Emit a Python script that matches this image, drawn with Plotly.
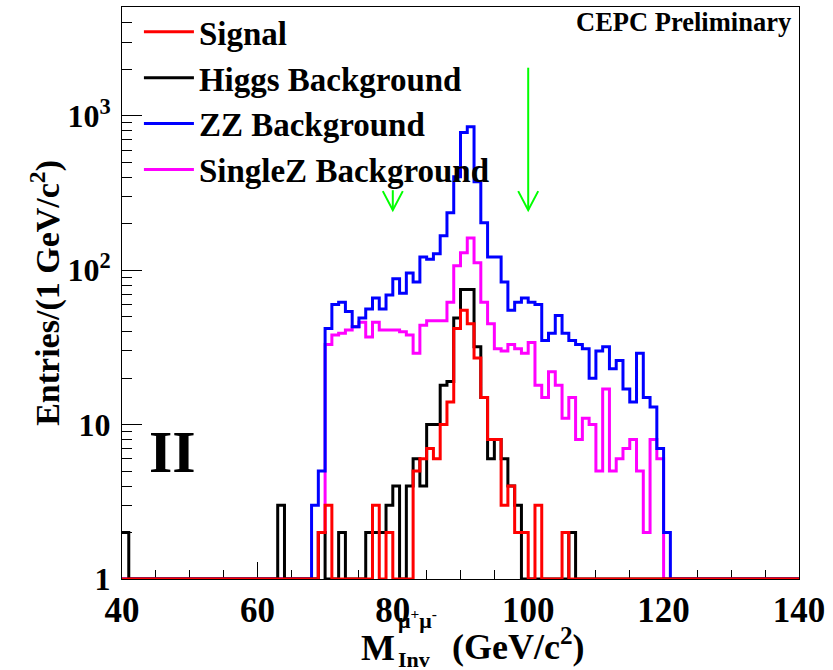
import numpy as np
import plotly.graph_objects as go

# ---------------- data (1 GeV bins from 40 to 140) ----------------
bin_edges = list(range(40, 141))

# bin contents, bins 40..139 (rows of 10 bins)
signal = [
    0, 0, 0, 0, 0, 0, 0, 0, 0, 0,        # 40-49
    0, 0, 0, 0, 0, 0, 0, 0, 0, 0,        # 50-59
    0, 0, 0, 0, 0, 0, 0, 0, 0, 2,        # 60-69
    3, 0, 0, 0, 0, 0, 0, 3, 0, 2,        # 70-79
    0, 0, 0, 5, 6, 7, 6, 10, 14, 42,     # 80-89
    55, 45, 27, 15, 8, 8, 3, 4, 2, 2,    # 90-99
    0, 3, 0, 0, 0, 2, 0, 0, 0, 0,        # 100-109
    0, 0, 0, 0, 0, 0, 0, 0, 0, 0,        # 110-119
    0, 0, 0, 0, 0, 0, 0, 0, 0, 0,        # 120-129
    0, 0, 0, 0, 0, 0, 0, 0, 0, 0,        # 130-139
]
higgs_bkg = [
    2, 0, 0, 0, 0, 0, 0, 0, 0, 0,
    0, 0, 0, 0, 0, 0, 0, 0, 0, 0,
    0, 0, 0, 3, 0, 0, 0, 0, 0, 2,
    0, 0, 2, 0, 0, 0, 2, 2, 2, 3,
    4, 0, 4, 6, 4, 10, 10, 18, 19, 49,
    75, 75, 32, 15, 6, 8, 6, 4, 3, 0,
    0, 0, 0, 0, 0, 0, 2, 0, 0, 0,
    0, 0, 0, 0, 0, 0, 0, 0, 0, 0,
    0, 0, 0, 0, 0, 0, 0, 0, 0, 0,
    0, 0, 0, 0, 0, 0, 0, 0, 0, 0,
]
zz_bkg = [
    0, 0, 0, 0, 0, 0, 0, 0, 0, 0,
    0, 0, 0, 0, 0, 0, 0, 0, 0, 0,
    0, 0, 0, 0, 0, 0, 0, 0, 3, 5,
    42, 60, 62, 54, 43, 49, 56, 66, 56, 69,
    88, 71, 96, 84, 122, 118, 128, 167, 236, 403,
    780, 850, 374, 203, 122, 122, 84, 55, 62, 66,
    62, 60, 35, 39, 51, 39, 35, 33, 31, 20,
    30, 32, 23, 26, 17, 14, 29, 15, 13, 7,
    2, 0, 0, 0, 0, 0, 0, 0, 0, 0,
    0, 0, 0, 0, 0, 0, 0, 0, 0, 0,
]
singlez_bkg = [
    0, 0, 0, 0, 0, 0, 0, 0, 0, 0,
    0, 0, 0, 0, 0, 0, 0, 0, 0, 0,
    0, 0, 0, 0, 0, 0, 0, 0, 0, 2,
    33, 38, 39, 41, 43, 46, 37, 46, 41, 41,
    41, 40, 38, 29, 44, 47, 47, 47, 62, 107,
    130, 162, 112, 62, 45, 31, 30, 33, 31, 29,
    34, 18, 15, 22, 18, 11, 15, 8, 11, 10,
    5, 17, 5, 6, 7, 8, 5, 2, 8, 6,
    0, 0, 0, 0, 0, 0, 0, 0, 0, 0,
    0, 0, 0, 0, 0, 0, 0, 0, 0, 0,
]

series_names = ["Signal", "Higgs Background", "ZZ Background", "SingleZ Background"]
series_colors = ["#ff0000", "#000000", "#0000ff", "#ff00ff"]

x_tick_vals = [40, 60, 80, 100, 120, 140]
y_tick_vals = [1, 10, 100, 1000]
y_tick_text = ["1", "10", "10<sup>2</sup>", "10<sup>3</sup>"]
y_minor_vals = [2, 3, 4, 5, 6, 7, 8, 9, 20, 30, 40, 50, 60, 70, 80, 90,
                200, 300, 400, 500, 600, 700, 800, 900, 2000, 3000, 4000, 5000]

# mass-window cut arrows (GeV) and their vertical extent (entries)
cut_values = [80, 100]
arrow_tops = [330, 2050]
arrow_tip = 245

FONT = "Liberation Serif"

# ---------------- figure ----------------
fig = go.Figure()


def step(counts):
    y = np.maximum(np.asarray(counts, dtype=float), 1.0)  # empty bins sit on the axis (log scale)
    y = np.append(y, y[-1])
    return bin_edges, y


# draw order: SingleZ, ZZ, Higgs, Signal (signal on top)
for counts, idx in [(singlez_bkg, 3), (zz_bkg, 2), (higgs_bkg, 1), (signal, 0)]:
    xs, ys = step(counts)
    fig.add_trace(go.Scatter(
        x=xs, y=ys, mode="lines", line_shape="hv",
        line=dict(color=series_colors[idx], width=3),
        name=series_names[idx], legendrank=idx + 1,
        cliponaxis=False, hoverinfo="skip",
    ))

shapes = []
for cv, top in zip(cut_values, arrow_tops):
    shapes.append(dict(type="line", xref="x", yref="y", x0=cv, x1=cv,
                       y0=top, y1=arrow_tip,
                       line=dict(color="#00ff00", width=2)))
    shapes.append(dict(type="path", xref="x", yref="y",
                       xsizemode="pixel", ysizemode="pixel",
                       xanchor=cv, yanchor=arrow_tip,
                       path="M-10,19 L0,0 L10,19",
                       line=dict(color="#00ff00", width=2)))

annotations = [
    dict(text="CEPC Preliminary", xref="paper", yref="paper", x=0.9915, y=0.974,
         xanchor="right", yanchor="middle", showarrow=False,
         font=dict(family=FONT, size=26.5, weight="bold", color="black")),
    dict(text="II", xref="paper", yref="paper", x=0.074, y=0.222,
         xanchor="center", yanchor="middle", showarrow=False,
         font=dict(family=FONT, size=60, weight="bold", color="black")),
    dict(text="Entries/(1 GeV/c<sup>2</sup>)", xref="paper", yref="paper",
         x=-0.114, y=0.5, textangle=-90, xanchor="center", yanchor="middle",
         showarrow=False, font=dict(family=FONT, size=34, weight="bold", color="black")),
    dict(text="M", xref="paper", yref="paper", x=0.378, y=-0.1206,
         xanchor="center", yanchor="middle", showarrow=False,
         font=dict(family=FONT, size=36, weight="bold", color="black")),
    dict(text="μ<sup>+</sup>μ<sup>-</sup>", xref="paper", yref="paper", x=0.405, y=-0.070,
         xanchor="left", yanchor="middle", showarrow=False,
         font=dict(family=FONT, size=22, weight="bold", color="black")),
    dict(text="Inv", xref="paper", yref="paper", x=0.405, y=-0.141,
         xanchor="left", yanchor="middle", showarrow=False,
         font=dict(family=FONT, size=22, weight="bold", color="black")),
    dict(text="(GeV/c<sup>2</sup>)", xref="paper", yref="paper", x=0.4845, y=-0.115,
         xanchor="left", yanchor="middle", showarrow=False,
         font=dict(family=FONT, size=36, weight="bold", color="black")),
]

fig.update_layout(
    width=833, height=670,
    margin=dict(l=122, r=34, t=7, b=91, autoexpand=False),
    plot_bgcolor="white", paper_bgcolor="white",
    font=dict(family=FONT, size=32, color="black", weight="bold"),
    showlegend=True,
    legend=dict(x=0.025, y=1.0055, xanchor="left", yanchor="top",
                bgcolor="rgba(0,0,0,0)", borderwidth=0,
                font=dict(family=FONT, size=33, weight="bold", color="black"),
                itemwidth=50, traceorder="normal"),
    shapes=shapes,
    annotations=annotations,
)
fig.update_xaxes(
    range=[40, 140], tickvals=x_tick_vals, ticks="inside", ticklen=17,
    tickwidth=1, tickcolor="black", showline=True, linecolor="black", linewidth=1,
    mirror=True, showgrid=False, zeroline=False, layer="below traces",
    tickfont=dict(family=FONT, size=35, weight="bold", color="black"),
    minor=dict(ticks="inside", dtick=5, ticklen=9, tickwidth=1, tickcolor="black", showgrid=False),
)
fig.update_yaxes(
    type="log", range=[0, 3.705], tickvals=y_tick_vals, ticktext=y_tick_text,
    ticks="inside", ticklen=20, tickwidth=1, tickcolor="black",
    showline=True, linecolor="black", linewidth=1, mirror=True,
    showgrid=False, zeroline=False, layer="below traces",
    ticklabelstandoff=4,
    tickfont=dict(family=FONT, size=32, weight="bold", color="black"),
    minor=dict(ticks="inside", tickvals=y_minor_vals, ticklen=10, tickwidth=1,
               tickcolor="black", showgrid=False),
)

fig.write_html("out.html")
